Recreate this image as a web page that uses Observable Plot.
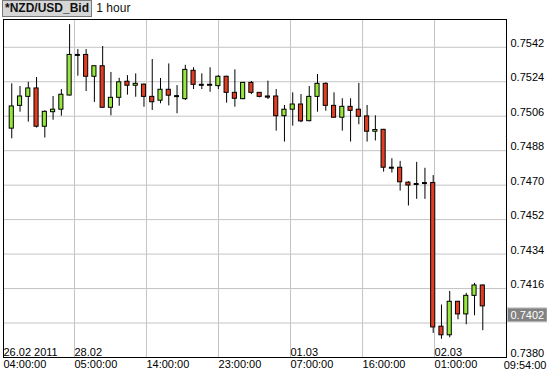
<!DOCTYPE html>
<html>
<head>
<meta charset="utf-8">
<script src="https://cdn.jsdelivr.net/npm/d3@7"></script>
<script src="https://cdn.jsdelivr.net/npm/@observablehq/plot@0.6"></script>
<style>
  html, body { margin: 0; padding: 0; background: #fff; }
  #wrap { position: relative; width: 547px; height: 374px; overflow: hidden; font-family: "Liberation Sans", Arial, sans-serif; }
  #hdr { position: absolute; left: 2px; top: 0px; font-size: 12px; line-height: 15px; white-space: nowrap; }
  #hdr .sym { display: inline-block; background: #d6d6d6; border: 1px solid #7a7a7a; font-weight: bold; padding: 0 2px; color: #111; }
  #hdr .per { color: #111; margin-left: 1px; }
</style>
</head>
<body>
<div id="wrap">
  <div id="chart"></div>
  <div id="hdr"><span class="sym">*NZD/USD_Bid</span><span class="per"> 1 hour</span></div>
</div>
<script>
// ---- data (hourly candles) ----
const open  = [0.74995,0.75114,0.75161,0.75205,0.75005,0.75081,0.75094,0.75168,0.75380,0.75380,
               0.75266,0.75321,0.75104,0.75156,0.75240,0.75219,0.75225,0.75161,0.75141,0.75198,
               0.75165,0.75149,0.75297,0.75224,0.75224,0.75217,0.75266,0.75182,0.75149,0.75234,
               0.75182,0.75163,0.75163,0.75060,0.75094,0.75121,0.75034,0.75161,0.75229,0.75114,
               0.75052,0.75109,0.75094,0.75059,0.74979,0.74989,0.74791,0.74791,0.74713,0.74706,
               0.74711,0.74711,0.73961,0.73916,0.74091,0.74025,0.74122,0.74176];
const high  = [0.75229,0.75215,0.75237,0.75262,0.75088,0.75163,0.75199,0.75538,0.75408,0.75408,
               0.75321,0.75424,0.75288,0.75258,0.75272,0.75281,0.75228,0.75356,0.75257,0.75333,
               0.75220,0.75326,0.75313,0.75281,0.75313,0.75272,0.75269,0.75302,0.75237,0.75241,
               0.75184,0.75243,0.75199,0.75116,0.75182,0.75173,0.75215,0.75278,0.75234,0.75182,
               0.75151,0.75151,0.75231,0.75116,0.75062,0.74991,0.74838,0.74824,0.74718,0.74819,
               0.74788,0.74750,0.74074,0.74145,0.74093,0.74135,0.74187,0.74179];
const low   = [0.74942,0.75081,0.75029,0.74998,0.74946,0.75039,0.75060,0.75165,0.75269,0.75189,
               0.75132,0.75102,0.75062,0.75112,0.75170,0.75159,0.75107,0.75090,0.75125,0.75114,
               0.75073,0.75142,0.75199,0.75199,0.75185,0.75199,0.75128,0.75107,0.75146,0.75173,
               0.75156,0.75147,0.74982,0.74925,0.75008,0.75026,0.75031,0.75081,0.75086,0.75050,
               0.74982,0.74925,0.75015,0.74925,0.74931,0.74768,0.74763,0.74669,0.74591,0.74626,
               0.74626,0.73926,0.73895,0.73903,0.73997,0.73971,0.74018,0.73940];
const close = [0.75111,0.75163,0.75205,0.75005,0.75083,0.75094,0.75172,0.75380,0.75380,0.75266,
               0.75321,0.75104,0.75156,0.75237,0.75219,0.75229,0.75161,0.75133,0.75198,0.75167,
               0.75165,0.75302,0.75224,0.75224,0.75219,0.75266,0.75182,0.75151,0.75234,0.75182,
               0.75161,0.75157,0.75060,0.75094,0.75121,0.75033,0.75161,0.75229,0.75114,0.75052,
               0.75109,0.75088,0.75057,0.74979,0.74988,0.74791,0.74791,0.74715,0.74698,0.74706,
               0.74711,0.73957,0.73916,0.74091,0.74025,0.74122,0.74176,0.74067];

// axis labels
const priceGrid   = [0.7398,0.7416,0.7434,0.7452,0.7470,0.7488,0.7506,0.7524,0.7542];
const priceLabels = [0.7380,0.7416,0.7434,0.7452,0.7470,0.7488,0.7506,0.7524,0.7542];
const lastPrice = 0.7402;
const timeTickPos   = [-1, 7.59, 16.30, 25.02, 33.73, 42.45, 51.16];
const timeTickText  = ["04:00:00","05:00:00","14:00:00","23:00:00","07:00:00","16:00:00","01:00:00"];
const gridPos       = [7.59, 16.30, 25.02, 33.73, 42.45, 51.16];
const datePos   = [-1, 7.59, 33.73, 51.16];
const dateText  = ["26.02 2011","28.02","01.03","02.03"];
const endTime = "09:54:00";

const GREEN = "#96e83c", RED = "#e03e22";
const candles = open.map((o, i) => ({i, open: o, high: high[i], low: low[i], close: close[i]}));
const isDoji = d => Math.abs(d.open - d.close) < 0.00003;
const bodies = candles.filter(d => !isDoji(d));
const dojis = candles.filter(isDoji);
const timeMap = new Map(timeTickPos.map((p, k) => [p, timeTickText[k]]));
const dates = datePos.map((p, k) => ({p, t: dateText[k]}));

const chart = Plot.plot({
  width: 547, height: 374,
  marginLeft: 3, marginRight: 41, marginTop: 19, marginBottom: 17,
  style: {fontFamily: "'Liberation Sans', Arial, sans-serif", fontSize: "11px", background: "transparent", color: "#000", overflow: "visible"},
  x: {type: "linear", domain: [-1.0, 59.87], axis: null},
  y: {type: "linear", domain: [0.7380, 0.75565], axis: null},
  marks: [
    Plot.gridY(priceGrid, {stroke: "#c4c4c4", strokeOpacity: 1}),
    Plot.gridX(gridPos, {stroke: "#c4c4c4", strokeOpacity: 1}),
    Plot.axisY(priceLabels, {anchor: "right", tickSize: 0, tickPadding: 4, dy: -4, textAnchor: "start", tickFormat: d => d.toFixed(4), fill: "#000"}),
    Plot.axisX(timeTickPos, {anchor: "bottom", tickSize: 0, tickPadding: 3, textAnchor: "start", tickFormat: d => timeMap.get(d), fill: "#000"}),
    Plot.text([endTime], {text: d => d, frameAnchor: "bottom-right", textAnchor: "end", lineAnchor: "top", dx: 40, dy: 4, fill: "#000"}),
    Plot.text(dates, {x: "p", text: "t", frameAnchor: "bottom", textAnchor: "start", lineAnchor: "bottom", dy: -2, fill: "#000"}),
    Plot.ruleX(candles, {x: "i", y1: "low", y2: "high", stroke: "#000", strokeWidth: 1}),
    Plot.rect(bodies, {x1: d => d.i - 0.25, x2: d => d.i + 0.25, y1: "open", y2: "close",
                       fill: d => d.close > d.open ? GREEN : RED, stroke: "#000", strokeWidth: 1}),
    Plot.ruleY(dojis, {y: "close", x1: d => d.i - 0.3, x2: d => d.i + 0.3, stroke: "#000", strokeWidth: 2}),
    Plot.text([lastPrice], {y: d => d, text: d => d.toFixed(4), frameAnchor: "right", textAnchor: "start", dx: 4, fill: "#fff"}),
    Plot.frame({stroke: "#000", strokeWidth: 1})
  ]
});
document.getElementById("chart").appendChild(chart);

// grey box behind the current price label
const svg = d3.select(chart.tagName.toLowerCase() === "svg" ? chart : chart.querySelector("svg"));
svg.selectAll("text").filter(function() { return this.textContent === lastPrice.toFixed(4) && this.getAttribute("fill") !== "#000"; })
  .each(function() {
    const b = this.getBBox();
    const parent = this.parentNode;
    const tr = this.getAttribute("transform");
    const r = document.createElementNS("http://www.w3.org/2000/svg", "rect");
    r.setAttribute("x", b.x - 3);
    r.setAttribute("y", b.y - 1);
    r.setAttribute("width", b.width + 6);
    r.setAttribute("height", b.height + 2);
    r.setAttribute("fill", "#828282");
    r.setAttribute("stroke", "#c8c8c8");
    if (tr) r.setAttribute("transform", tr);
    parent.insertBefore(r, this);
  });
</script>
</body>
</html>
